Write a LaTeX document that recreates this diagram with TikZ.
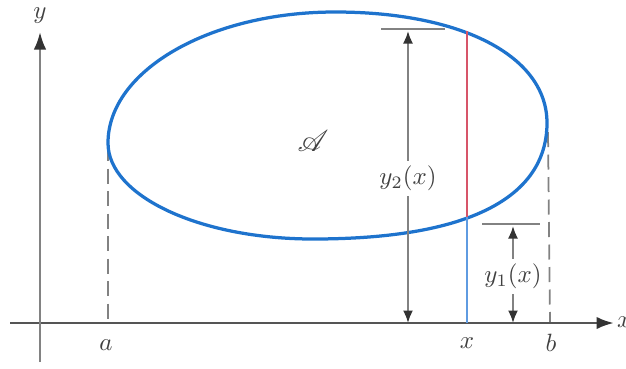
\documentclass[tikz,border=0pt]{standalone}
\usepackage{mathrsfs}
\usetikzlibrary{arrows.meta}
\definecolor{ellblue}{RGB}{30,115,205}
\definecolor{segred}{RGB}{215,85,105}
\definecolor{segblue}{RGB}{95,155,225}
\definecolor{dimgray}{RGB}{130,130,130}
\definecolor{axisgray}{RGB}{85,85,85}
\tikzset{
  axisline/.style={draw=axisgray, line width=1.1pt},
  yaxisline/.style={draw=dimgray, line width=1pt},
  dimline/.style={draw=dimgray, line width=0.8pt},
  dimarrow/.style={draw=dimgray, line width=0.8pt, {Latex[length=5pt,width=4pt,color=black!80]}-{Latex[length=5pt,width=4pt,color=black!80]}},
  dashline/.style={draw=dimgray, line width=0.7pt, dash pattern=on 6pt off 3pt},
  lbl/.style={font=\normalsize, inner sep=1pt, text=black!75},
  dimlbl/.style={lbl, fill=white, inner sep=2pt}
}
\begin{document}
\begin{tikzpicture}[x=0.4pt,y=-0.4pt]
\useasboundingbox (0,0) rectangle (626,368);
% coordinates
\coordinate (xs) at (10,323);
\coordinate (xe) at (614,323);
\coordinate (ys) at (40,362);
\coordinate (ye) at (40,32);
\coordinate (aT) at (108,146);
\coordinate (aB) at (108,323);
\coordinate (bT) at (548,132);
\coordinate (bB) at (550,323);
\coordinate (rT) at (467,31);
\coordinate (rM) at (467,217);
\coordinate (rB) at (467,323);
\coordinate (t2L) at (381,29);
\coordinate (t2R) at (445,29);
\coordinate (d2T) at (408,31);
\coordinate (d2B) at (408,323);
\coordinate (t1L) at (482,224);
\coordinate (t1R) at (540,224);
\coordinate (d1T) at (513,226);
\coordinate (d1B) at (513,323);
% region boundary extremes
\coordinate (eL) at (108,143);
\coordinate (eT) at (335,12);
\coordinate (eR) at (547,123);
\coordinate (eB) at (313,239);
% dashed lines
\draw[dashline] (aT) -- (aB);
\draw[dashline] (bT) -- (bB);
% axes
\draw[axisline, -{Latex[length=7pt,width=5pt,color=black!80]}] (xs) -- (xe);
\draw[yaxisline, -{Latex[length=7pt,width=5pt,color=black!80]}] (ys) -- (ye);
\node[lbl] (ylab) at (40,16) {$y$};
\node[lbl, anchor=west] (xlab) at (614,322) {$x$};
% region boundary
\draw[ellblue, line width=1.3pt]
  (eL) .. controls (108,70.7) and (209.7,12) .. (eT)
       .. controls (462.2,12) and (547,56.4) .. (eR)
       .. controls (547,186.8) and (488.5,239) .. (eB)
       .. controls (199.8,239) and (108,196) .. (eL) -- cycle;
% vertical segments
\draw[segred, line width=1.1pt] (rT) -- (rM);
\draw[segblue, line width=1.1pt] (rM) -- (rB);
% dimension y2
\draw[dimline] (t2L) -- (t2R);
\draw[dimarrow] (d2T) -- (d2B);
\node[dimlbl] (y2lab) at (408,178) {$y_2(x)$};
% dimension y1
\draw[dimline] (t1L) -- (t1R);
\draw[dimarrow] (d1T) -- (d1B);
\node[dimlbl] (y1lab) at (513,276) {$y_1(x)$};
% labels
\node[lbl] (alab) at (106,345) {$a$};
\node[lbl] (xvlab) at (467,343) {$x$};
\node[lbl] (blab) at (551,343) {$b$};
\node[lbl, font=\large] (Alab) at (313,141) {$\mathscr{A}$};
\end{tikzpicture}
\end{document}
